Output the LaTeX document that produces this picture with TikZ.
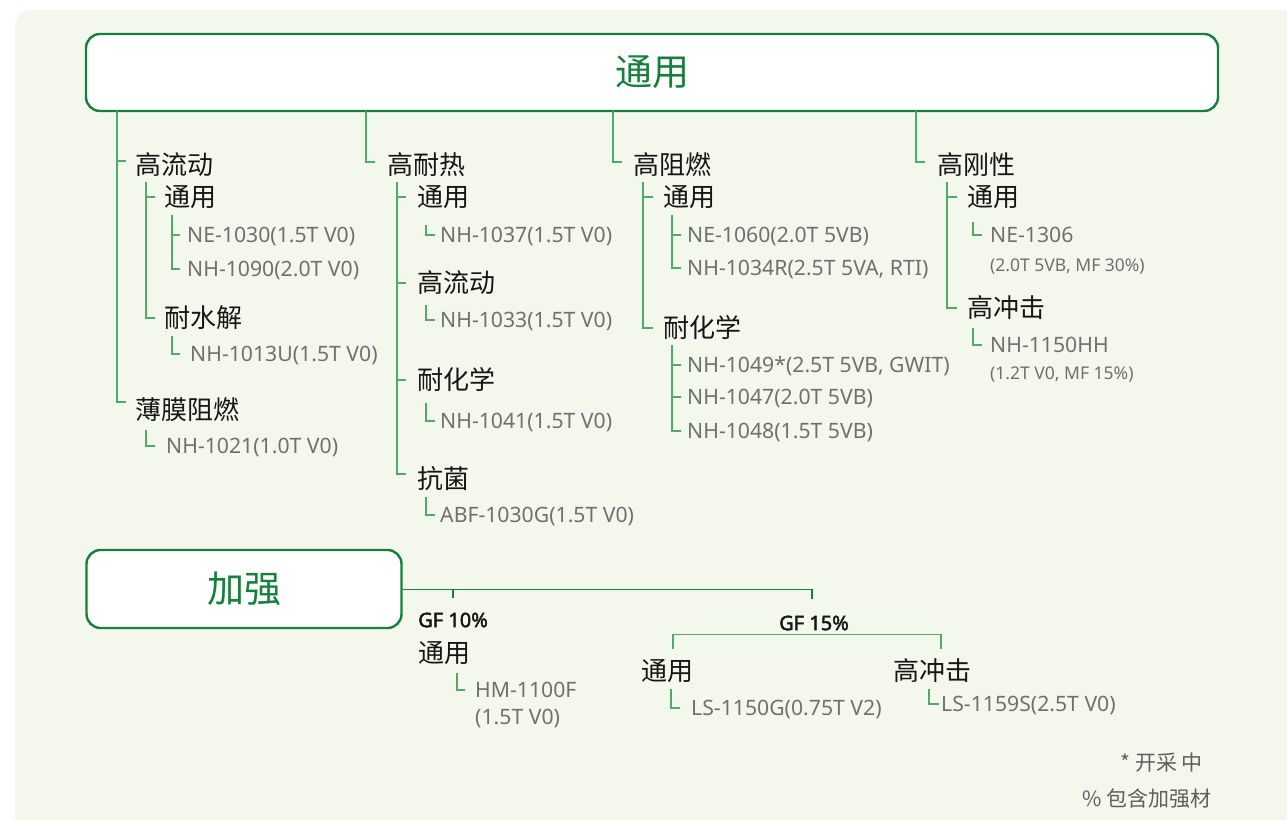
\documentclass[tikz,border=0pt]{standalone}
\usepackage{fontspec}
\setmainfont{Noto Sans CJK SC}
\newfontfamily\latinfont{Noto Sans}
\newfontfamily\gffont{Noto Sans}[FakeBold=2.2]
\usetikzlibrary{positioning}
\usepackage{xcolor}
\definecolor{bgfill}{HTML}{F4F8EC}
\definecolor{darkgreen}{HTML}{14803A}
\definecolor{linegreen}{HTML}{52AA68}
\definecolor{labelink}{HTML}{161616}
\definecolor{gradeink}{HTML}{707070}
\definecolor{noteink}{HTML}{5E5E5E}
\tikzstyle{branch} = [draw=linegreen, line width=1.1pt]
\tikzstyle{feed} = [draw=darkgreen, line width=1.1pt]

\begin{document}
\begin{tikzpicture}[
    x=1pt, y=-1pt,
    groupbox/.style={
        rectangle,
        draw=darkgreen,
        line width=2.4pt,
        rounded corners=14pt,
        fill=white,
        text=darkgreen,
        font=\fontsize{37}{42}\selectfont
    },
    kind/.style={anchor=west, inner sep=0pt, text=labelink,
        font=\fontsize{26}{30}\selectfont, text height=21.8pt, text depth=2pt},
    grade/.style={anchor=west, inner sep=0pt, text=gradeink,
        font=\latinfont\fontsize{21.2}{25}\selectfont, text height=15.1pt, text depth=0pt},
    spec/.style={grade, font=\latinfont\fontsize{17.5}{21}\selectfont, text height=12.5pt},
    glass/.style={anchor=west, inner sep=0pt, text=labelink,
        font=\gffont\fontsize{20}{24}\selectfont, text height=14.3pt, text depth=0pt},
    foot/.style={anchor=east, inner sep=0pt, text=noteink, font=\fontsize{21}{25}\selectfont}
]
\useasboundingbox (0,0) rectangle (1287,819);
\fill[bgfill, rounded corners=16pt] (15,10) rectangle (1300,832);

% Group boxes
\node[groupbox, minimum width=1132pt, minimum height=77pt] (general) at (652,72.5) {通用};
\node[groupbox, minimum width=315pt, minimum height=78pt] (reinf) at (244,589) {加强};

% High flow column
\coordinate (t1) at (117,111);
\node[kind] (hflow) at (135,165) {高流动};
\coordinate (s1) at (146,182);
\node[kind] (hfgen) at (164,197) {通用};
\coordinate (u1) at (172,215);
\node[grade] (ne1030) at (187,235) {NE-1030(1.5T V0)};
\node[grade] (nh1090) at (187,269) {NH-1090(2.0T V0)};
\node[kind] (hfhyd) at (164,318) {耐水解};
\coordinate (u2) at (172,336);
\node[grade] (nh1013u) at (190,354) {NH-1013U(1.5T V0)};
\node[kind] (film) at (135,410) {薄膜阻燃};
\coordinate (s2) at (146,430);
\node[grade] (nh1021) at (166,446) {NH-1021(1.0T V0)};

\draw[branch] (t1) |- ([shift={(-9,-8)}]film.west);
\draw[branch] (t1 |- hflow.west) ++(0,-4) -- ([shift={(-9,-4)}]hflow.west);
\draw[branch] (s1) |- ([xshift=-9pt]hfhyd.west);
\draw[branch] (s1 |- hfgen.west) -- ([xshift=-9pt]hfgen.west);
\draw[branch] (u1) |- ([xshift=-7pt]nh1090.west);
\draw[branch] (u1 |- ne1030.west) -- ([xshift=-7pt]ne1030.west);
\draw[branch] (u2) |- ([xshift=-10pt]nh1013u.west);
\draw[branch] (s2) |- ([xshift=-11pt]nh1021.west);

% Heat resistant column
\coordinate (t2) at (366,111);
\node[kind] (hheat) at (387,165) {高耐热};
\coordinate (s3) at (397,182);
\node[kind] (hhgen) at (417,197) {通用};
\coordinate (u3) at (426,225);
\node[grade] (nh1037) at (440,235) {NH-1037(1.5T V0)};
\node[kind] (hhflow) at (417,283) {高流动};
\coordinate (u4) at (426,305);
\node[grade] (nh1033) at (440,320) {NH-1033(1.5T V0)};
\node[kind] (hhchem) at (417,380) {耐化学};
\coordinate (u5) at (426,403);
\node[grade] (nh1041) at (440,421) {NH-1041(1.5T V0)};
\node[kind] (hhanti) at (417,479) {抗菌};
\coordinate (u6) at (426,497);
\node[grade] (abf1030g) at (440,515) {ABF-1030G(1.5T V0)};

\draw[branch] (t2) |- ([shift={(-12,-3)}]hheat.west);
\draw[branch] (s3) |- ([shift={(-11,-5)}]hhanti.west);
\foreach \n in {hhgen, hhflow, hhchem}
    \draw[branch] (s3 |- \n.west) -- ([xshift=-11pt]\n.west);
\draw[branch] (u3) |- ([xshift=-5pt]nh1037.west);
\draw[branch] (u4) |- ([xshift=-5pt]nh1033.west);
\draw[branch] (u5) |- ([xshift=-5pt]nh1041.west);
\draw[branch] (u6) |- ([xshift=-5pt]abf1030g.west);

% Flame retardant column
\coordinate (t3) at (613,111);
\node[kind] (hfr) at (633,165) {高阻燃};
\coordinate (s4) at (643,182);
\node[kind] (frgen) at (663,197) {通用};
\coordinate (u7) at (672,215);
\node[grade] (ne1060) at (687,235) {NE-1060(2.0T 5VB)};
\node[grade] (nh1034r) at (687,268) {NH-1034R(2.5T 5VA, RTI)};
\node[kind] (frchem) at (663,328) {耐化学};
\coordinate (u8) at (672,345);
\node[grade] (nh1049) at (687,365) {NH-1049*(2.5T 5VB, GWIT)};
\node[grade] (nh1047) at (687,397) {NH-1047(2.0T 5VB)};
\node[grade] (nh1048) at (687,431) {NH-1048(1.5T 5VB)};

\draw[branch] (t3) |- ([shift={(-11,-3)}]hfr.west);
\draw[branch] (s4) |- ([xshift=-10pt]frchem.west);
\draw[branch] (s4 |- frgen.west) -- ([xshift=-10pt]frgen.west);
\draw[branch] (u7) |- ([xshift=-6pt]nh1034r.west);
\draw[branch] (u7 |- ne1060.west) -- ([xshift=-6pt]ne1060.west);
\draw[branch] (u8) |- ([xshift=-6pt]nh1048.west);
\foreach \n in {nh1049, nh1047}
    \draw[branch] (u8 |- \n.west) -- ([xshift=-6pt]\n.west);

% Rigidity column
\coordinate (t4) at (916,111);
\node[kind] (hrig) at (937,165) {高刚性};
\coordinate (s5) at (947,182);
\node[kind] (rggen) at (967,197) {通用};
\coordinate (u9) at (973,222);
\node[grade] (ne1306) at (990,235) {NE-1306};
\node[spec] (ne1306s) at (990,265) {(2.0T 5VB, MF 30\%)};
\node[kind] (rgimp) at (967,308) {高冲击};
\coordinate (u10) at (973,328);
\node[grade] (nh1150hh) at (990,345) {NH-1150HH};
\node[spec] (nh1150hhs) at (990,373) {(1.2T V0, MF 15\%)};

\draw[branch] (t4) |- ([shift={(-12,-3)}]hrig.west);
\draw[branch] (s5) |- ([xshift=-10pt]rgimp.west);
\draw[branch] (s5 |- rggen.west) -- ([xshift=-10pt]rggen.west);
\draw[branch] (u9) |- ([xshift=-8pt]ne1306.west);
\draw[branch] (u10) |- ([xshift=-8pt]nh1150hh.west);

% Reinforced branch
\coordinate (gf10top) at (453,589.5);
\coordinate (gf10drop) at (453,598);
\coordinate (gf15top) at (812,589.5);
\coordinate (gf15drop) at (812,599);
\draw[feed] (reinf.east |- gf15top) -- (gf15top) -- (gf15drop);
\draw[feed] (gf10top) -- (gf10drop);

\node[glass] (gf10) at (418,620) {GF 10\%};
\node[kind] (g10gen) at (418,653) {通用};
\coordinate (u11) at (457,673);
\node[grade] (hm1100f) at (475,690) {HM-1100F};
\node[grade] (hm1100fs) at (475,717) {(1.5T V0)};
\draw[branch] (u11) |- ([xshift=-10pt]hm1100f.west);

\node[glass, anchor=center] (gf15) at (814,623) {GF 15\%};
\coordinate (bl) at (673,649);
\coordinate (br) at (941,649);
\draw[branch] (bl) |- ([yshift=-4pt]gf15.south) -| (br);
\node[kind] (g15gen) at (641,671) {通用};
\node[kind] (g15imp) at (893,671) {高冲击};
\coordinate (u12) at (671,689);
\node[grade] (ls1150g) at (691,708) {LS-1150G(0.75T V2)};
\coordinate (u13) at (929,689);
\node[grade] (ls1159s) at (941,704) {LS-1159S(2.5T V0)};
\draw[branch] (u12) |- ([xshift=-11pt]ls1150g.west);
\draw[branch] (u13) |- ([xshift=-2pt]ls1159s.west);

% Notes
\node[foot] (note1) at (1203,763) {* 开采 中};
\node[foot] (note2) at (1212,799) {\% 包含加强材};

\end{tikzpicture}
\end{document}
